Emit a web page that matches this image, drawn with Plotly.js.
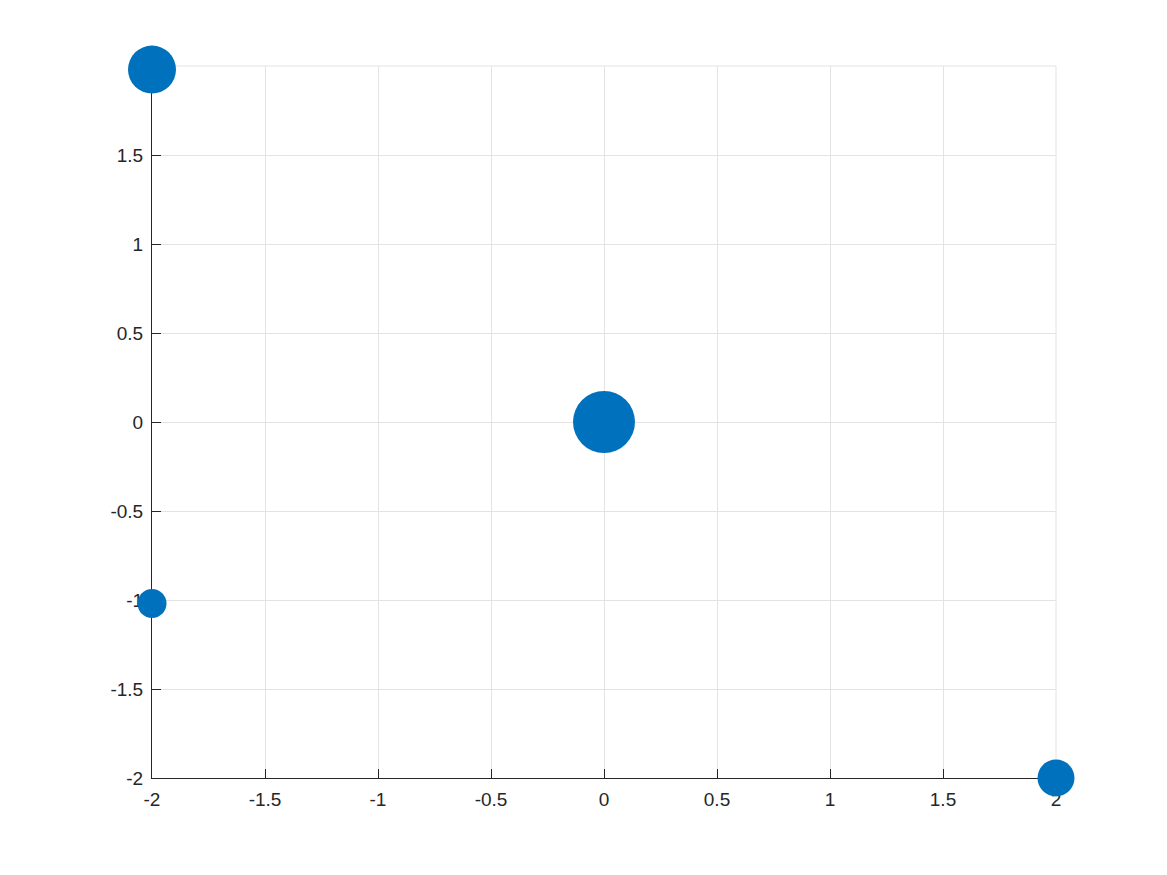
<!DOCTYPE html>
<html>
<head>
<meta charset="utf-8">
<script src="https://cdn.plot.ly/plotly-3.0.1.min.js"></script>
<style>
	html, body { margin: 0; padding: 0; background: #fff; }
	#plot { width: 1167px; height: 875px; }
</style>
</head>
<body>
<div id="plot"></div>
<script>
(function () {

	'use strict';

	// data
	const xVals = [-2, -2, 0, 2];
	const yVals = [1.98, -1.02, 0, -2];
	const bubbleSizes = [48, 29, 62, 37];

	// tick values
	const xTicks = [-2, -1.5, -1, -0.5, 0, 0.5, 1, 1.5, 2];
	const yTicks = [-2, -1.5, -1, -0.5, 0, 0.5, 1, 1.5, 2];
	const yHidden = [2]; // grid line but no label at the top

	const axisColor = '#262626';
	const gridColor = '#e3e3e3';

	/**
	* shared axis settings
	*/
	const axisBase = ( ticks, hide = [] ) => ({
		range: [-2, 2],
		tickmode: 'array',
		tickvals: ticks,
		ticktext: ticks.map( v => hide.includes( v ) ? '' : String( v )),
		ticks: 'inside',
		ticklen: 9,
		tickwidth: 1,
		tickcolor: axisColor,
		showline: true,
		linecolor: axisColor,
		linewidth: 1,
		showgrid: true,
		gridcolor: gridColor,
		gridwidth: 1,
		zeroline: false,
		layer: 'below traces',
		fixedrange: true,
		ticklabelstandoff: 4,
		tickfont: { family: 'Liberation Sans, Arial, sans-serif', size: 19, color: axisColor },
	});

	const trace = {
		x: xVals,
		y: yVals,
		type: 'scatter',
		mode: 'markers',
		cliponaxis: false,
		marker: {
			size: bubbleSizes,
			color: '#0072BD',
			opacity: 1,
			line: { width: 0 },
		},
		hoverinfo: 'x+y',
	};

	// grid lines on the top and right edges (plotly drops them at the range ends)
	const edgeLine = ( x0, y0, x1, y1 ) => ({
		type: 'line',
		xref: 'paper', yref: 'paper',
		x0, y0, x1, y1,
		layer: 'below',
		line: { color: gridColor, width: 1 },
	});

	const layout = {
		width: 1167,
		height: 875,
		margin: { l: 152, r: 111, t: 66, b: 97 },
		paper_bgcolor: '#ffffff',
		plot_bgcolor: '#ffffff',
		showlegend: false,
		xaxis: axisBase( xTicks ),
		yaxis: axisBase( yTicks, yHidden ),
		shapes: [
			edgeLine( 0, 1, 1, 1 ),
			edgeLine( 1, 0, 1, 1 ),
		],
	};

	Plotly.newPlot( 'plot', [ trace ], layout, { displayModeBar: false, responsive: false });

})();
</script>
</body>
</html>
